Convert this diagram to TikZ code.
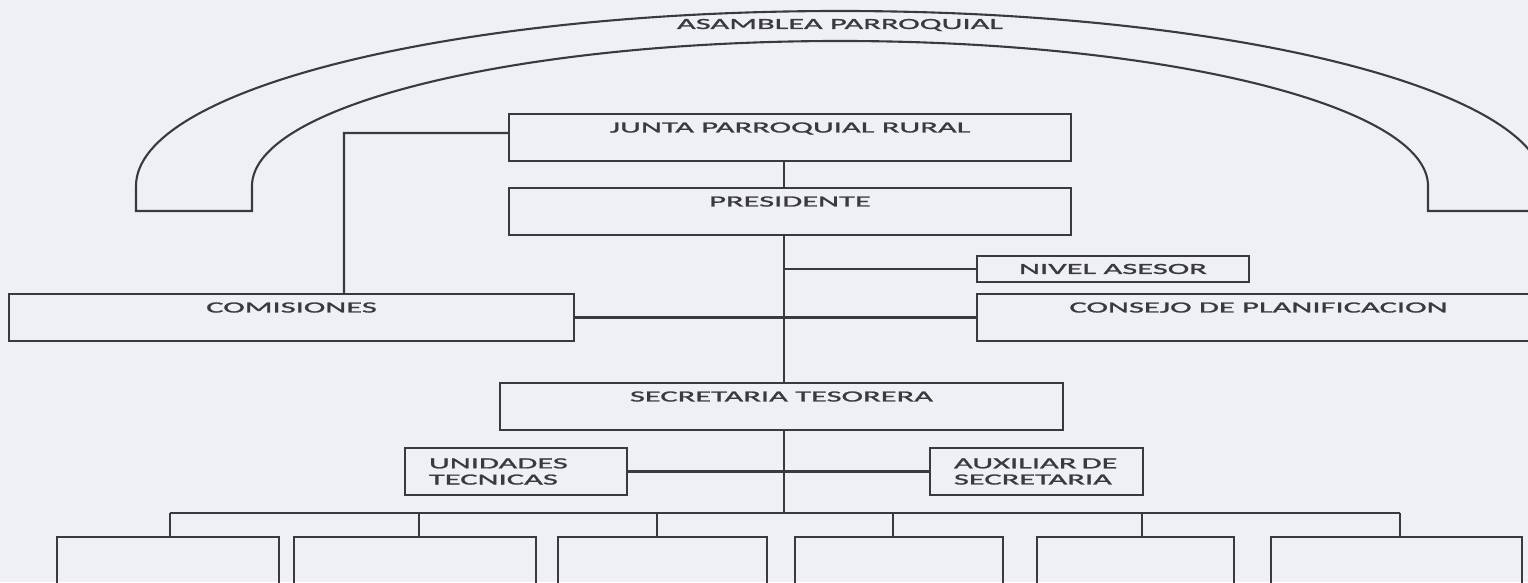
\documentclass[tikz,border=0pt]{standalone}
\usepackage{fontspec}
\newfontfamily\orgfont{Carlito}[FakeStretch=2.1, FakeBold=1.5]
\usetikzlibrary{calc}
\definecolor{paper}{RGB}{239,240,246}
\definecolor{ink}{RGB}{58,58,62}

\begin{document}
\begin{tikzpicture}[x=0.01cm, y=0.01cm,
		line/.style={line width=0.6pt, color=ink},
		caja/.style={draw=ink, line width=0.6pt, inner sep=0pt, text=ink, font=\orgfont\fontsize{4.4}{4.6}\selectfont},
		cajatop/.style={caja, text height=1.85mm, text depth=2.85mm},
		cajados/.style={caja, align=left, inner xsep=2.4mm, minimum height=4.7mm},
		vacia/.style={draw=ink, line width=0.6pt, inner sep=0pt, minimum height=7mm}]
			%%%%% START %%%%%
			
			\fill[paper] (0, 0) rectangle (1528, 582);
			\useasboundingbox (0, 0) rectangle (1528, 582);
			\clip (0, 0) rectangle (1528, 582);
			
			\draw[line] (136, 371) -- (136, 396) arc[start angle=180, end angle=0, x radius=704, y radius=175] -- (1544, 371) -- (1428, 371) -- (1428, 396) arc[start angle=0, end angle=180, x radius=588, y radius=145] -- (252, 371) -- cycle;
			\node[anchor=base, inner sep=0pt, text=ink, font=\orgfont\fontsize{4.4}{4.6}\selectfont] (asamblea) at (840, 553) {ASAMBLEA PARROQUIAL};
			
			\node[cajatop, minimum width=5.62cm] (junta) at (790, 444.5) {JUNTA PARROQUIAL RURAL};
			\node[cajatop, minimum width=5.62cm] (presidente) at (790, 370.5) {PRESIDENTE};
			\node[caja, minimum width=2.72cm, minimum height=2.6mm] (nivel) at (1113, 313) {NIVEL ASESOR};
			\node[cajatop, minimum width=5.65cm] (comisiones) at (291.5, 264.5) {COMISIONES};
			\node[cajatop, minimum width=5.63cm] (consejo) at (1258.5, 264.5) {CONSEJO DE PLANIFICACION};
			\node[cajatop, minimum width=5.63cm] (secretaria) at (781.5, 175.5) {SECRETARIA TESORERA};
			\node[cajados, text width=1.74cm] (unidades) at (516, 110.5) {UNIDADES\\TECNICAS};
			\node[cajados, text width=1.65cm] (auxiliar) at (1036.5, 110.5) {AUXILIAR DE\\SECRETARIA};
			
			\coordinate (spine) at (784, 0);
			\coordinate (codo) at (344, 449);
			
			\draw[line] (junta.south -| spine) -- (presidente.north -| spine);
			\draw[line] (presidente.south -| spine) -- (secretaria.north -| spine);
			\draw[line] ([yshift=0.45mm]junta.west) -- (codo) -- (comisiones.north -| codo);
			\draw[line] (spine |- nivel.west) -- (nivel.west);
			\draw[line] (comisiones.east) -- (consejo.west);
			\draw[line] (unidades.east) -- (auxiliar.west);
			
			\foreach \l/\r/\d [count=\i] in {57/279/170, 294/536/419, 558/767/657, 795/1003/893, 1037/1234/1142, 1271/1522/1400}{
				\pgfmathsetmacro\w{(\r-\l)*0.01}
				\node[vacia, anchor=north, minimum width=\w cm] (u\i) at ({(\l+\r)/2}, 46) {};
				\coordinate (d\i) at (\d, 69);
				\draw[line] (d\i) -- (u\i.north -| d\i);
			}
			\draw[line] (d1) -- (d6);
			\draw[line] (secretaria.south -| spine) -- (spine |- d1);
			
			%%%%% END %%%%%
		\end{tikzpicture}
\end{document}
